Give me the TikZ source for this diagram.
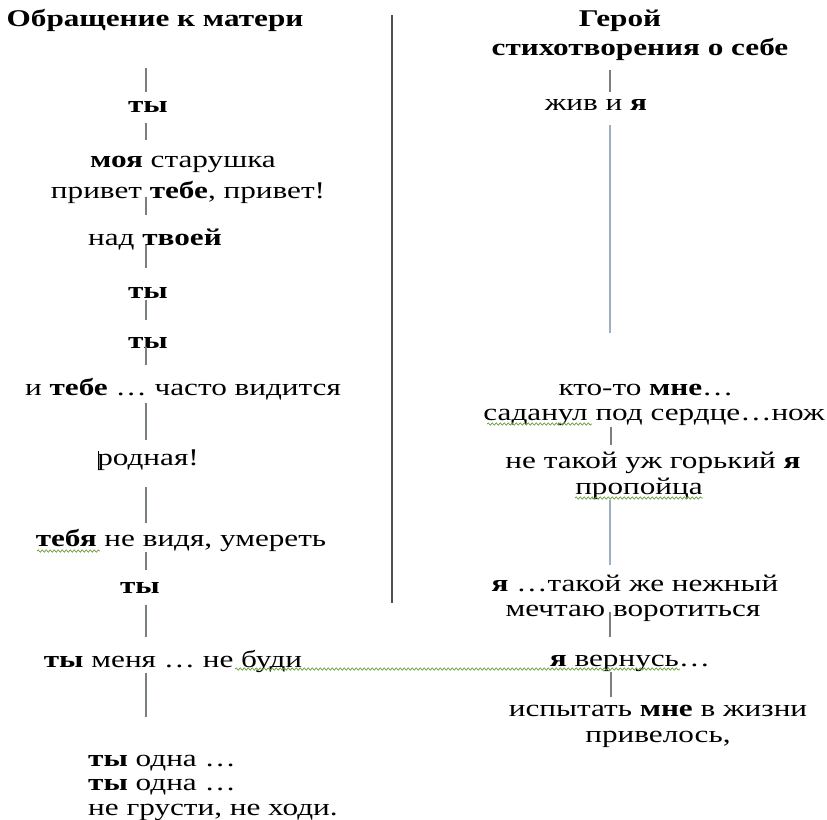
\documentclass[tikz,border=0pt]{standalone}
\usepackage{fontspec}
\setmainfont{Liberation Serif}[FakeStretch=1.3]
\usetikzlibrary{decorations.pathmorphing}
\definecolor{tick}{HTML}{7A7F80}
\definecolor{bluetick}{HTML}{9DAFC0}
\definecolor{divider}{HTML}{505050}
\definecolor{spell}{HTML}{6C9E3C}
\begin{document}
\begin{tikzpicture}[x=1pt,y=-1pt,
  txt/.style={anchor=base, inner sep=0pt, font=\fontsize{24}{26}\selectfont},
  txtl/.style={anchor=base west, inner sep=0pt, font=\fontsize{24}{26}\selectfont},
  ttl/.style={anchor=base, inner sep=0pt, font=\fontsize{24}{26}\selectfont\bfseries},
  tickline/.style={draw=tick, line width=1.3pt},
  blueline/.style={draw=bluetick, line width=1.6pt},
  divline/.style={draw=divider, line width=2.2pt},
  wavy/.style={draw=spell, line width=0.7pt, decorate, decoration={snake, segment length=4pt, amplitude=1.2pt}}]
\useasboundingbox (0,0) rectangle (827,819);

% titles
\node[ttl] (t1) at (155,27) {Обращение к матери};
\node[ttl] (t2) at (620,27) {Герой};
\node[ttl] (t3) at (640,55) {стихотворения о себе};

% divider
\coordinate (da) at (392,15);
\coordinate (db) at (392,603);
\draw[divline] (da) -- (db);

% left column
\node[txt] (l1) at (148,112) {\textbf{ты}};
\node[txt] (l2) at (183,167) {\textbf{моя} старушка};
\node[txt] (l3) at (188,198) {привет \textbf{тебе}, привет!};
\node[txt] (l4) at (155,245) {над \textbf{твоей}};
\node[txt] (l5) at (148,298) {\textbf{ты}};
\node[txt] (l6) at (148,348) {\textbf{ты}};
\node[txt] (l7) at (183,395) {и \textbf{тебе} … часто видится};
\node[txt] (l8) at (148,465) {родная!};
\node[txt] (l9) at (181,546) {\textbf{тебя} не видя, умереть};
\node[txt] (l10) at (140,593) {\textbf{ты}};
\node[txt] (l11) at (173,667) {\textbf{ты} меня … не буди};
\node[txtl] (l12) at (88,766) {\textbf{ты} одна …};
\node[txtl] (l13) at (88,790) {\textbf{ты} одна …};
\node[txtl] (l14) at (88,815) {не грусти, не ходи.};

% right column
\node[txt] (r1) at (596,110) {жив и \textbf{я}};
\node[txt] (r2) at (646,395) {кто-то \textbf{мне}…};
\node[txt] (r3) at (654,420) {саданул под сердце…нож};
\node[txt] (r4) at (653,468) {не такой уж горький \textbf{я}};
\node[txt] (r5) at (639,494) {пропойца};
\node[txt] (r6) at (635,591) {\textbf{я} …такой же нежный};
\node[txt] (r7) at (633,616) {мечтаю воротиться};
\node[txt] (r8) at (630,666) {\textbf{я} вернусь…};
\node[txt] (r9) at (658,716) {испытать \textbf{мне} в жизни};
\node[txt] (r10) at (658,742) {привелось,};

% left ticks
\foreach \i/\a/\b in {1/68/92, 2/123/140, 3/197/215, 4/245/268, 5/300/320, 6/347/365, 7/403/440, 8/487/523, 9/552/570, 10/605/637, 11/673/717}{
  \coordinate (la\i) at (146,\a);
  \coordinate (lb\i) at (146,\b);
  \draw[tickline] (la\i) -- (lb\i);
}

% right ticks
\coordinate (ra1) at (610,70);  \coordinate (rb1) at (610,92);
\draw[tickline] (ra1) -- (rb1);
\coordinate (ra2) at (610,125); \coordinate (rb2) at (610,333);
\draw[blueline] (ra2) -- (rb2);
\coordinate (ra3) at (611,427); \coordinate (rb3) at (611,445);
\draw[tickline] (ra3) -- (rb3);
\coordinate (ra4) at (610,500); \coordinate (rb4) at (610,565);
\draw[blueline] (ra4) -- (rb4);
\coordinate (ra5) at (610,612); \coordinate (rb5) at (610,637);
\draw[tickline] (ra5) -- (rb5);
\coordinate (ra6) at (611,672); \coordinate (rb6) at (611,697);
\draw[tickline] (ra6) -- (rb6);

% text cursor in "родная!"
\coordinate (ca) at (98,451);
\coordinate (cb) at (98,470);
\draw[black, line width=1pt] (ca) -- (cb);

% spell-check wavy underlines
\coordinate (w1a) at (37,551);  \coordinate (w1b) at (100,551);
\draw[wavy] (w1a) -- (w1b);
\coordinate (w2a) at (235,669); \coordinate (w2b) at (680,669);
\draw[wavy] (w2a) -- (w2b);
\coordinate (w3a) at (487,424); \coordinate (w3b) at (592,424);
\draw[wavy] (w3a) -- (w3b);
\coordinate (w4a) at (575,498); \coordinate (w4b) at (703,498);
\draw[wavy] (w4a) -- (w4b);
\end{tikzpicture}
\end{document}
